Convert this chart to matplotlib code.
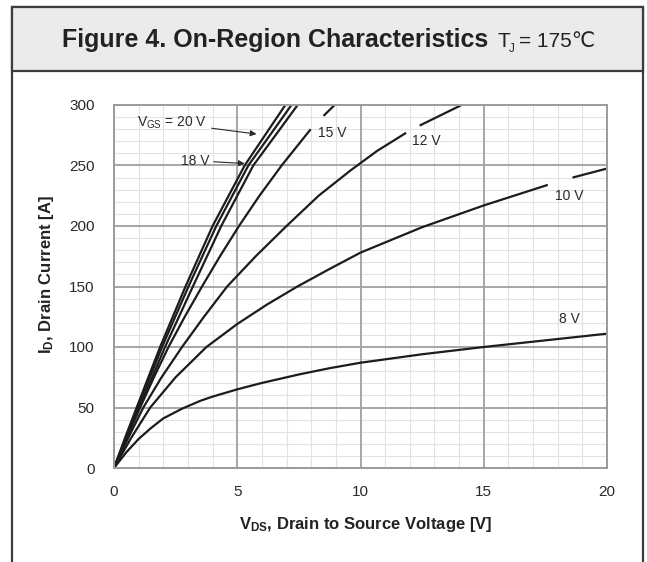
import numpy as np
import matplotlib
matplotlib.use("Agg")
import matplotlib.pyplot as plt
from matplotlib.patches import Rectangle

plt.rcParams['font.family'] = ['Liberation Sans', 'DejaVu Sans']
plt.rcParams['mathtext.fontset'] = 'custom'
plt.rcParams['mathtext.rm'] = 'Liberation Sans'
plt.rcParams['mathtext.bf'] = 'Liberation Sans:bold'
plt.rcParams['mathtext.default'] = 'regular'

# Data (V_DS in V, I_D in A)
vds_20 = [0, 0.45, 0.92, 1.87, 2.9, 4.0, 5.3, 6.95]
id_20 = [0, 25, 50, 100, 150, 200, 250, 300]

vds_18 = [0, 0.48, 0.97, 1.95, 3.02, 4.15, 5.45, 7.2]
id_18 = [0, 25, 50, 100, 150, 200, 250, 300]

# third steep curve next to the 20 V / 18 V pair (no label of its own)
vds_c = [0, 0.5, 1.03, 2.07, 3.2, 4.35, 5.65, 7.45]
id_c = [0, 25, 50, 100, 150, 200, 250, 300]

vds_15 = [0, 0.52, 1.06, 1.62, 2.21, 2.87, 3.57, 4.3, 5.07, 5.9, 6.8, 7.98, 8.5, 8.95]
id_15 = [0, 25, 50, 75, 100, 125, 150, 175, 200, 225, 250, 280, 291, 300]

vds_12 = [0, 0.58, 1.19, 1.93, 2.76, 3.65, 4.59, 5.75, 7.0, 8.3, 9.6, 10.67, 11.85, 12.4, 14.1]
id_12 = [0, 25, 50, 75, 100, 125, 150, 175, 200, 225, 246, 262, 277, 283, 300]

vds_10 = [0, 0.7, 1.47, 2.5, 3.75, 5, 6.2, 7.44, 8.7, 10, 12.5, 15, 17.6, 18.6, 20]
id_10 = [0, 25, 50, 75, 100, 119, 135, 150, 164, 178, 199, 217, 234, 240, 247.5]

vds_8 = [0, 0.5, 1, 1.5, 2, 2.76, 3.5, 4, 5, 6, 7.5, 8.75, 10, 12.5, 15, 17.5, 20]
id_8 = [0, 13, 24, 33, 41, 49, 55.5, 59, 65, 70.3, 77.3, 82.5, 87, 94, 100, 105.5, 111]

# label gaps (V_DS start, V_DS end) where the line is broken for the text
gap_15 = (7.98, 8.5)
gap_12 = (11.85, 12.4)
gap_10 = (17.6, 18.6)


def with_gap(v, i, gap=None):
    v = np.asarray(v, dtype=float)
    i = np.asarray(i, dtype=float)
    if gap is None:
        return v, i
    k = int(np.searchsorted(v, gap[1]))
    return np.insert(v, k, np.nan), np.insert(i, k, np.nan)


# Step 1: figure with the framed datasheet look
fig = plt.figure(figsize=(6.47, 5.62), dpi=100)
W, H = 647.0, 562.0

frame = Rectangle((11.7 / W, -0.1), (643 - 11.7) / W, 1.1 - 6.7 / H,
                  transform=fig.transFigure, facecolor='white',
                  edgecolor='#3c3c3c', lw=1.6, zorder=-3)
fig.patches.append(frame)
header = Rectangle((11.7 / W, 1 - 70.7 / H), (643 - 11.7) / W, (70.7 - 6.7) / H,
                   transform=fig.transFigure, facecolor='#ebebeb',
                   edgecolor='#3c3c3c', lw=1.6, zorder=-2)
fig.patches.append(header)

title_y = 1 - 47 / H
fig.text(488 / W, title_y, "Figure 4. On-Region Characteristics",
         ha='right', va='baseline', fontsize=18, fontweight='bold', color='#222222')
fig.text(497 / W, title_y, "T", ha='left', va='baseline', fontsize=15, color='#222222')
fig.text(509 / W, title_y - 5 / H, "J", ha='left', va='baseline', fontsize=8.5, color='#222222')
fig.text(519 / W, title_y, "= 175\u2103", ha='left', va='baseline', fontsize=15,
         color='#222222')

# Step 2: axes and grid
ax = fig.add_axes([114 / W, 1 - 468 / H, (607 - 114) / W, (468 - 105) / H])
ax.set_facecolor('white')
ax.set_xlim(0, 20)
ax.set_ylim(0, 300)
ax.set_xticks([0, 5, 10, 15, 20])
ax.set_yticks([0, 50, 100, 150, 200, 250, 300])
ax.tick_params(which='both', length=0)
ax.tick_params(axis='x', pad=12, labelsize=11, labelcolor='#2a2a2a')
ax.tick_params(axis='y', pad=14, labelsize=11, labelcolor='#2a2a2a')
for s in ax.spines.values():
    s.set_color('#9a9a9a')
    s.set_linewidth(1.4)

for v in range(21):
    if v % 5:
        ax.axvline(v, color='#e2e2e2', lw=0.8, zorder=0.1)
for i in range(0, 301, 10):
    if i % 50:
        ax.axhline(i, color='#e2e2e2', lw=0.8, zorder=0.1)
for v in [5, 10, 15]:
    ax.axvline(v, color='#a6a6a6', lw=1.4, zorder=0.2)
for i in [50, 100, 150, 200, 250]:
    ax.axhline(i, color='#a6a6a6', lw=1.4, zorder=0.2)

# Step 3: curves
curves = [
    (vds_20, id_20, None),
    (vds_18, id_18, None),
    (vds_c, id_c, None),
    (vds_15, id_15, gap_15),
    (vds_12, id_12, gap_12),
    (vds_10, id_10, gap_10),
    (vds_8, id_8, None),
]
for v, i, gap in curves:
    x, y = with_gap(v, i, gap)
    ax.plot(x, y, color='#1c1c1c', lw=1.6, solid_capstyle='butt',
            solid_joinstyle='round', clip_on=True, zorder=2)

# Step 4: curve labels
lbl = dict(fontsize=10, color='#2a2a2a', ha='center', va='center')
ax.text(8.87, 277, "15 V", **lbl)
ax.text(12.66, 270, "12 V", **lbl)
ax.text(18.46, 225, "10 V", **lbl)
ax.text(18.46, 123, "8 V", **lbl)
arrow = dict(arrowstyle='-|>', color='#2a2a2a', lw=0.8, mutation_scale=9,
             shrinkA=1, shrinkB=0)
ax.annotate("V$_{GS}$ = 20 V", xy=(5.78, 276), xytext=(2.37, 285),
            arrowprops=arrow, **lbl)
ax.annotate("18 V", xy=(5.3, 251.6), xytext=(3.3, 254),
            arrowprops=arrow, **lbl)

# Step 5: axis labels
ax.set_xlabel(r"$\mathbf{V_{DS}}$, Drain to Source Voltage [V]",
              fontsize=12, fontweight='bold', color='#222222')
ax.set_ylabel(r"$\mathbf{I_D}$, Drain Current [A]",
              fontsize=12, fontweight='bold', color='#222222')
ax.xaxis.set_label_coords(0.51, -0.130)
ax.yaxis.set_label_coords(-0.118, 0.534)

plt.savefig("out.png", dpi=100)
